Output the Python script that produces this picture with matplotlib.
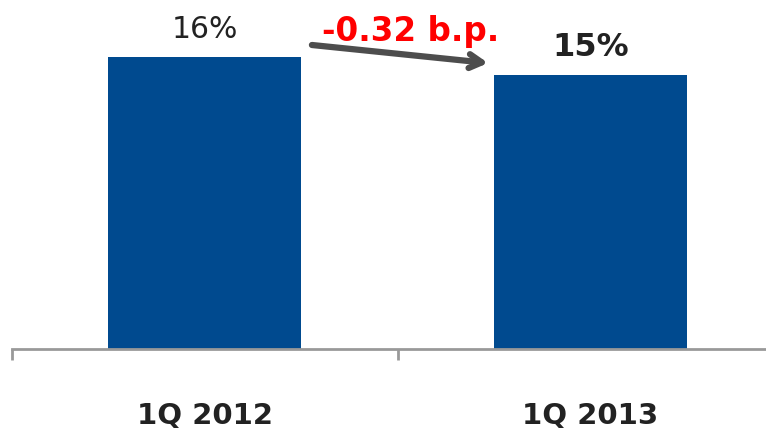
import matplotlib.pyplot as plt

categories = ["1Q 2012", "1Q 2013"]
values = [16, 15]
value_labels = ["16%", "15%"]
change_label = "-0.32 b.p."

fig = plt.figure(figsize=(7.66, 4.33), dpi=100)
ax = fig.add_axes([12 / 766, 1 - 348.5 / 433, 771 / 766, 348.5 / 433])

x = range(len(categories))
ax.bar(x, values, width=0.5, color="#004a8f")

ax.set_xlim(-0.5, 1.5)
ax.set_ylim(0, 19.13)

for s in ["top", "right", "left"]:
    ax.spines[s].set_visible(False)
ax.spines["bottom"].set_color("#999999")
ax.spines["bottom"].set_linewidth(2)
ax.set_yticks([])
ax.set_xticks([-0.5, 0.5, 1.5])
ax.set_xticklabels([])
ax.tick_params(axis="x", direction="out", length=8, width=2, color="#999999")

# value labels
ax.text(0, 17.5, value_labels[0], ha="center", va="center", fontsize=21.5, color="#222222")
ax.text(1, 16.5, value_labels[1], ha="center", va="center", fontsize=23,
        fontweight="bold", color="#222222")

# category labels below the axis
for i, c in enumerate(categories):
    ax.text(i, -3.7, c, ha="center", va="center", fontsize=21, fontweight="bold",
            color="#222222", clip_on=False)

# change arrow
ax.annotate("", xy=(0.735, 15.67), xytext=(0.278, 16.66),
            arrowprops=dict(arrowstyle="->,head_length=0.9,head_width=0.5",
                            lw=4.5, color="#4d4d4d", shrinkA=0, shrinkB=0))
ax.text(0.535, 17.4, change_label, ha="center", va="center", fontsize=23.5,
        fontweight="bold", color="#ff0000")

fig.savefig("out.png", dpi=100)
